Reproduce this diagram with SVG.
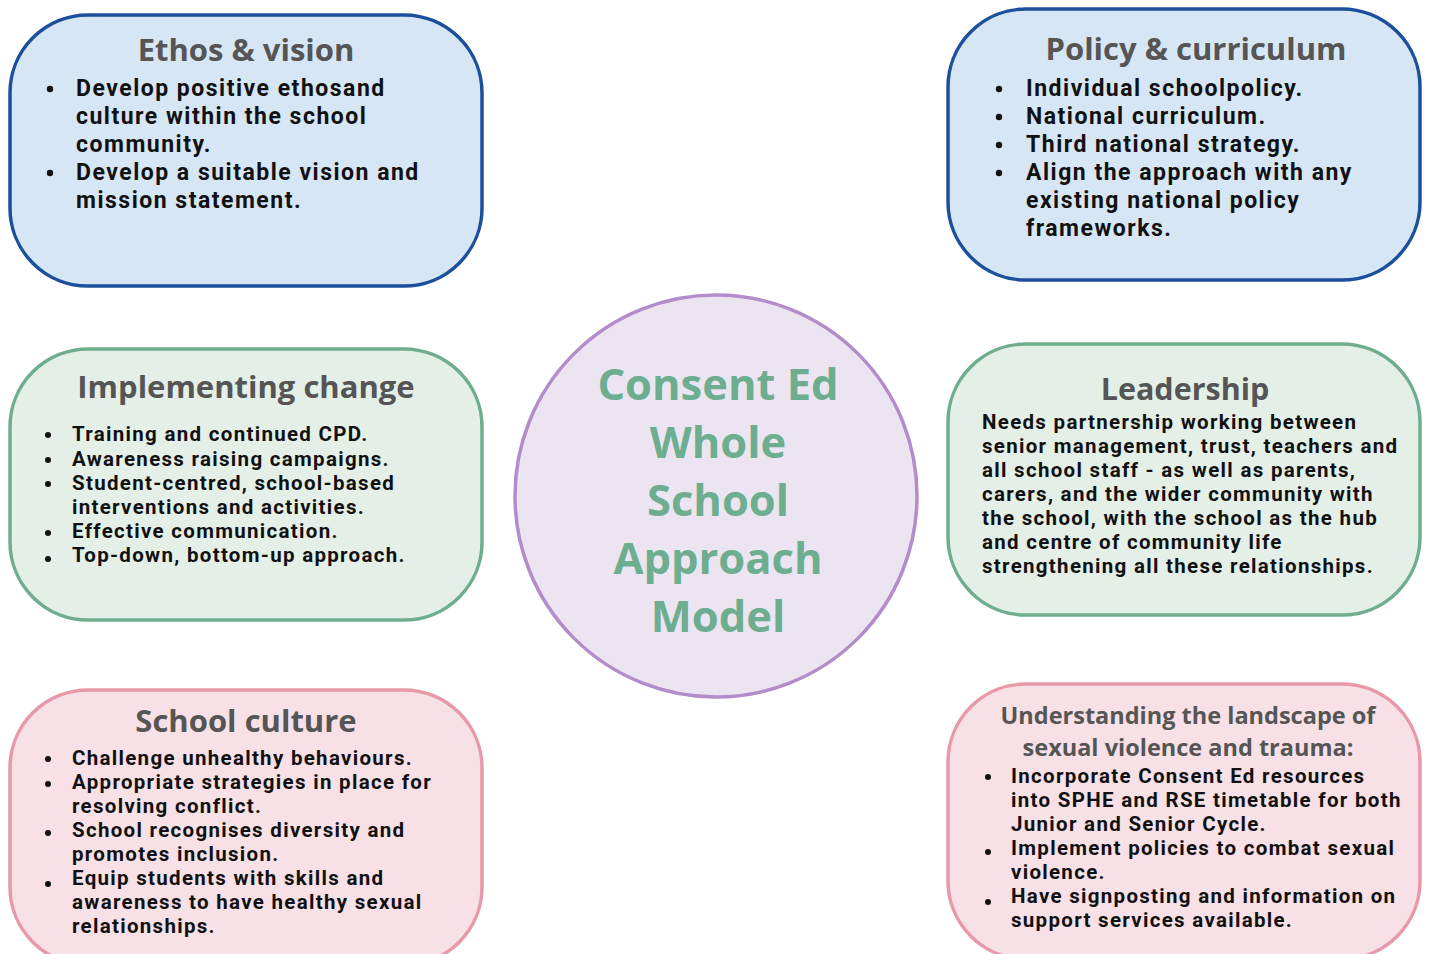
<svg xmlns="http://www.w3.org/2000/svg" width="1429" height="954" viewBox="0 0 1429 954">
<style>
.blue{fill:#d6e6f5;stroke:#1c4f9c;stroke-width:3.5}
.green{fill:#e4efe8;stroke:#6eae8f;stroke-width:3.5}
.pink{fill:#f7e0e6;stroke:#e899a9;stroke-width:3.5}
.title{font-family:"Open Sans","Liberation Sans",sans-serif;font-weight:700;fill:#555555;text-anchor:middle}
.body{font-family:Roboto,"Liberation Sans",sans-serif;font-weight:700;fill:#111111}
.b22{font-size:23px;letter-spacing:1.5px}
.b20{font-size:20.5px;letter-spacing:1.3px}
.center{font-family:"Open Sans","Liberation Sans",sans-serif;font-weight:700;fill:#6cae8f;text-anchor:middle;font-size:43.5px}
.dot{fill:#111111}
</style>
<rect width="1429" height="954" fill="#ffffff"/>
<g id="connectors"/>
<g id="ethos">
<rect class="blue" x="10" y="15" width="472" height="271" rx="78" ry="78"/>
<text class="title" x="246" y="61" font-size="31">Ethos &amp; vision</text>
<g class="body b22">
<text x="76" y="96">Develop positive ethosand</text>
<text x="76" y="124">culture within the school</text>
<text x="76" y="152">community.</text>
<text x="76" y="180">Develop a suitable vision and</text>
<text x="76" y="208">mission statement.</text>
</g>
<circle class="dot" cx="50" cy="89" r="3.2"/>
<circle class="dot" cx="50" cy="173" r="3.2"/>
</g>
<g id="policy">
<rect class="blue" x="948" y="9" width="472" height="271" rx="78" ry="78"/>
<text class="title" x="1196" y="60" font-size="31">Policy &amp; curriculum</text>
<g class="body b22">
<text x="1026" y="96">Individual schoolpolicy.</text>
<text x="1026" y="124">National curriculum.</text>
<text x="1026" y="152">Third national strategy.</text>
<text x="1026" y="180">Align the approach with any</text>
<text x="1026" y="208">existing national policy</text>
<text x="1026" y="236">frameworks.</text>
</g>
<circle class="dot" cx="999" cy="89" r="3.2"/>
<circle class="dot" cx="999" cy="117" r="3.2"/>
<circle class="dot" cx="999" cy="145" r="3.2"/>
<circle class="dot" cx="999" cy="173" r="3.2"/>
</g>
<g id="implementing">
<rect class="green" x="10" y="349" width="472" height="271" rx="78" ry="78"/>
<text class="title" x="246" y="398" font-size="31">Implementing change</text>
<g class="body b20">
<text x="72" y="441">Training and continued CPD.</text>
<text x="72" y="466">Awareness raising campaigns.</text>
<text x="72" y="490">Student-centred, school-based</text>
<text x="72" y="514">interventions and activities.</text>
<text x="72" y="538">Effective communication.</text>
<text x="72" y="562">Top-down, bottom-up approach.</text>
</g>
<circle class="dot" cx="48" cy="435" r="3"/>
<circle class="dot" cx="48" cy="460" r="3"/>
<circle class="dot" cx="48" cy="484" r="3"/>
<circle class="dot" cx="48" cy="533" r="3"/>
<circle class="dot" cx="48" cy="559" r="3"/>
</g>
<g id="leadership">
<rect class="green" x="948" y="344" width="472" height="271" rx="78" ry="78"/>
<text class="title" x="1185" y="400" font-size="30.5">Leadership</text>
<g class="body b20">
<text x="982" y="429">Needs partnership working between</text>
<text x="982" y="453">senior management, trust, teachers and</text>
<text x="982" y="477">all school staff - as well as parents,</text>
<text x="982" y="501">carers, and the wider community with</text>
<text x="982" y="525">the school, with the school as the hub</text>
<text x="982" y="549">and centre of community life</text>
<text x="982" y="573">strengthening all these relationships.</text>
</g>
</g>
<g id="culture">
<rect class="pink" x="10" y="690" width="472" height="275" rx="78" ry="78"/>
<text class="title" x="246" y="732" font-size="31">School culture</text>
<g class="body b20">
<text x="72" y="765">Challenge unhealthy behaviours.</text>
<text x="72" y="789">Appropriate strategies in place for</text>
<text x="72" y="813">resolving conflict.</text>
<text x="72" y="837">School recognises diversity and</text>
<text x="72" y="861">promotes inclusion.</text>
<text x="72" y="885">Equip students with skills and</text>
<text x="72" y="909">awareness to have healthy sexual</text>
<text x="72" y="933">relationships.</text>
</g>
<circle class="dot" cx="48" cy="759" r="3"/>
<circle class="dot" cx="48" cy="784" r="3"/>
<circle class="dot" cx="48" cy="833" r="3"/>
<circle class="dot" cx="48" cy="884" r="3"/>
</g>
<g id="understanding">
<rect class="pink" x="948" y="684" width="472" height="275" rx="78" ry="78"/>
<text class="title" x="1188" y="724" font-size="23.5" font-weight="600">Understanding the landscape of</text>
<text class="title" x="1188" y="756" font-size="23.5" font-weight="600">sexual violence and trauma:</text>
<g class="body b20">
<text x="1011" y="783">Incorporate Consent Ed resources</text>
<text x="1011" y="807">into SPHE and RSE timetable for both</text>
<text x="1011" y="831">Junior and Senior Cycle.</text>
<text x="1011" y="855">Implement policies to combat sexual</text>
<text x="1011" y="879">violence.</text>
<text x="1011" y="903">Have signposting and information on</text>
<text x="1011" y="927">support services available.</text>
</g>
<circle class="dot" cx="988" cy="777" r="3"/>
<circle class="dot" cx="988" cy="852" r="3"/>
<circle class="dot" cx="988" cy="902" r="3"/>
</g>
<g id="center">
<circle cx="716" cy="496" r="201" fill="#ece5f1" stroke="#b48bcb" stroke-width="3.5"/>
<text class="center" x="718" y="400">Consent Ed</text>
<text class="center" x="718" y="458">Whole</text>
<text class="center" x="718" y="516">School</text>
<text class="center" x="718" y="574">Approach</text>
<text class="center" x="718" y="632">Model</text>
</g>
</svg>
